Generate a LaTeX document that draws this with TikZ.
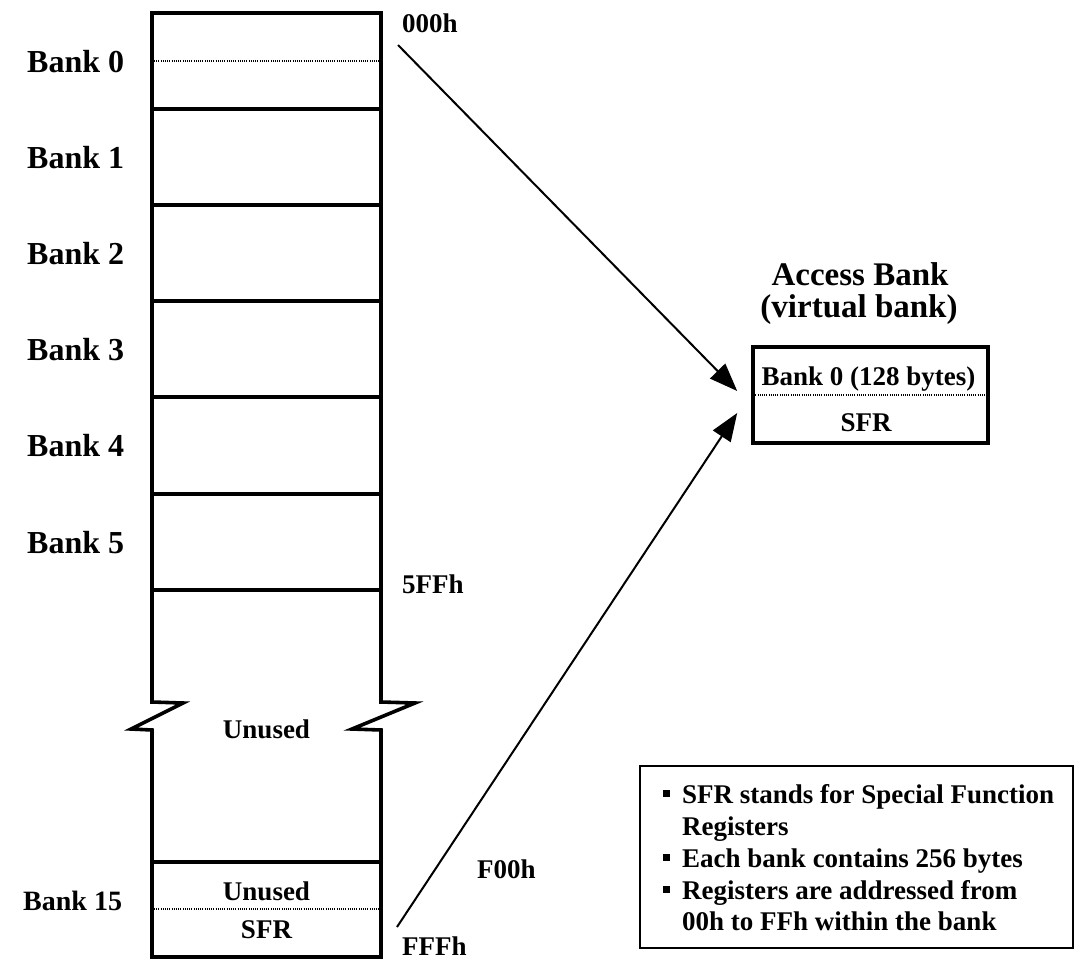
\documentclass[tikz,border=0pt]{standalone}
\usepackage{fontspec}
\setmainfont{Liberation Serif}
\usetikzlibrary{arrows.meta}

\begin{document}
\begin{tikzpicture}[x=1pt,y=-1pt,
  wall/.style={line width=3.6pt, line join=miter, line cap=rect},
  divider/.style={line width=1.1pt, dash pattern=on 1pt off 1.2pt},
  banklbl/.style={anchor=base west, inner sep=0pt, font=\fontsize{32}{38}\selectfont\bfseries},
  addr/.style={anchor=base west, inner sep=0pt, font=\fontsize{27}{32}\selectfont\bfseries},
  cell/.style={anchor=base, inner sep=0pt, font=\fontsize{27}{32}\selectfont\bfseries},
  title/.style={anchor=base, inner sep=0pt, font=\fontsize{33}{38}\selectfont\bfseries},
  note/.style={anchor=base west, inner sep=0pt, font=\fontsize{27}{32}\selectfont\bfseries},
  bullet/.style={fill=black},
  link/.style={line width=2pt, -{Triangle[length=28pt,width=21pt]}},
]
\useasboundingbox (0,0) rectangle (1076,962);

% ---------- data memory column ----------
% banks 0..5
\draw[wall] (152,13) rectangle (381,590);
\foreach \y in {109,205,301,397,494} \draw[wall] (152,\y) -- (381,\y);
\draw[divider] (154,61) -- (379,61);

% unused region with break marks
\draw[wall] (152,590) -- (152,702) -- (183,703) -- (131,729) -- (152,730) -- (152,957);
\draw[wall] (381,590) -- (381,702) -- (415,703) -- (352,729) -- (381,730) -- (381,957);
% bank 15
\draw[wall] (152,862) -- (381,862);
\draw[wall] (152,957) -- (381,957);
\draw[divider] (154,909) -- (379,909);

% bank labels
\node[banklbl] (b0) at (27,72)  {Bank 0};
\node[banklbl] (b1) at (27,168) {Bank 1};
\node[banklbl] (b2) at (27,264) {Bank 2};
\node[banklbl] (b3) at (27,360) {Bank 3};
\node[banklbl] (b4) at (27,456) {Bank 4};
\node[banklbl] (b5) at (27,553) {Bank 5};
\node[banklbl, font=\fontsize{28}{34}\selectfont\bfseries] (b15) at (23,910) {Bank 15};

% cell labels
\node[cell] (unused)   at (266.5,738) {Unused};
\node[cell] (unused15) at (266.5,900) {Unused};
\node[cell] (sfr15)    at (266.5,938) {SFR};

% addresses
\node[addr] (a000) at (402,32)  {000h};
\node[addr] (a5ff) at (402,593) {5FFh};
\node[addr] (af00) at (477,878) {F00h};
\node[addr] (afff) at (402,955) {FFFh};

% ---------- access bank ----------
\node[title] (t1) at (860,285) {Access Bank};
\node[title] (t2) at (859,317) {(virtual bank)};

\node[draw, line width=3.6pt, minimum width=235pt, minimum height=96pt, inner sep=0pt]
  (acc) at (870.5,395) {};
\draw[divider] ([xshift=2pt]acc.west) -- ([xshift=-2pt]acc.east);
\node[cell] (accb0)  at (868.5,385) {Bank 0 (128 bytes)};
\node[cell] (accsfr) at (866,431)   {SFR};

% ---------- mapping arrows ----------
\coordinate (s1) at (398,45);
\coordinate (s2) at (397,927);
\coordinate (e1) at ([shift={(-14,-4)}]acc.west);
\coordinate (e2) at ([shift={(-14,18)}]acc.west);
\draw[link] (s1) -- (e1);
\draw[link] (s2) -- (e2);

% ---------- notes ----------
\draw[line width=2pt] (640,766) rectangle (1073,948);
\fill[bullet] (663,790) rectangle (670,797);
\fill[bullet] (663,854) rectangle (670,861);
\fill[bullet] (663,886) rectangle (670,893);
\node[note] (n1) at (682,803) {SFR stands for Special Function};
\node[note] (n2) at (682,835) {Registers};
\node[note] (n3) at (682,867) {Each bank contains 256 bytes};
\node[note] (n4) at (682,899) {Registers are addressed from};
\node[note] (n5) at (682,930) {00h to FFh within the bank};
\end{tikzpicture}
\end{document}
